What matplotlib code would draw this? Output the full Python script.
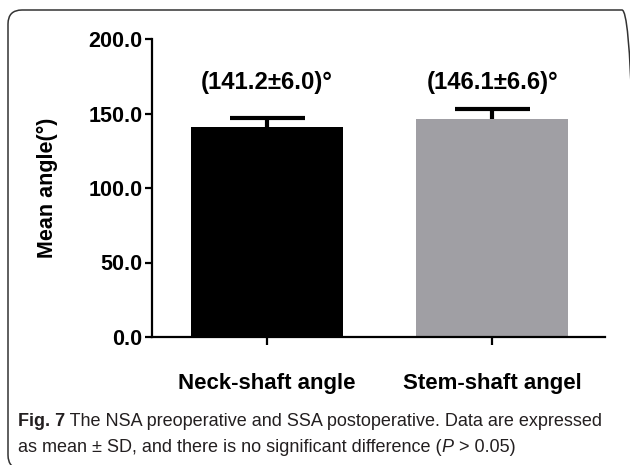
import matplotlib
matplotlib.use("Agg")
import matplotlib.pyplot as plt
from matplotlib.patches import FancyBboxPatch
from matplotlib.transforms import IdentityTransform
from matplotlib import font_manager

categories = ["Neck-shaft angle", "Stem-shaft angel"]
means = [141.2, 146.1]
sds = [6.0, 6.6]
bar_labels = ["(141.2\u00b16.0)\u00b0", "(146.1\u00b16.6)\u00b0"]
yticks = [0, 50, 100, 150, 200]
ylabel = "Mean angle(\u00b0)"
bar_colors = ["#000000", "#a09fa4"]

names = {f.name for f in font_manager.fontManager.ttflist}
bold_font = "Liberation Sans" if "Liberation Sans" in names else "DejaVu Sans"
cap_font = "Liberation Sans Narrow" if "Liberation Sans Narrow" in names else bold_font

fig = plt.figure(figsize=(6.3, 4.65), dpi=100)
ax = fig.add_axes([152/630, 1-337/465, (605-152)/630, (337-39)/465])

x = list(range(len(categories)))
ax.bar(x, means, width=0.674, color=bar_colors, zorder=2)
ax.errorbar(x, means, yerr=sds, fmt="none", ecolor="black",
            elinewidth=3, capsize=27, capthick=3, zorder=1)

for xi, lab in zip(x, bar_labels):
    ax.text(xi, 171, lab, ha="center", va="center", fontsize=17.2,
            fontweight="bold", family=bold_font)

ax.set_xlim(-0.51, 1.5)
ax.set_ylim(0, 200)
ax.set_yticks(yticks)
ax.set_yticklabels([f"{v:.1f}" for v in yticks], fontsize=15.5,
                   fontweight="bold", family=bold_font)
ax.set_xticks(x)
ax.set_xticklabels(categories, fontsize=16, fontweight="bold", family=bold_font)
ax.set_ylabel(ylabel, fontsize=15.5, fontweight="bold", family=bold_font, labelpad=22)

for s in ["top", "right"]:
    ax.spines[s].set_visible(False)
for s in ["left", "bottom"]:
    ax.spines[s].set_linewidth(1.6)
ax.tick_params(axis="y", length=5, width=1.6, pad=2)
ax.tick_params(axis="x", length=6, width=1.6, pad=20)

frame = FancyBboxPatch((8, -4), 628, 465 - 10 + 4,
                       boxstyle="round,pad=0,rounding_size=14",
                       transform=IdentityTransform(), fill=False,
                       edgecolor="#333333", linewidth=1.1)
fig.add_artist(frame)

# caption
fs = 13
cc = "#231f20"
t1 = fig.text(18/630, 1-426/465, "Fig. 7", fontsize=fs, fontweight="bold",
              family=cap_font, va="baseline", color=cc)
fig.canvas.draw()
t2 = ax.annotate(" The NSA preoperative and SSA postoperative. Data are expressed",
                 xy=(1, 0), xycoords=t1, va="bottom", ha="left", fontsize=fs,
                 family=cap_font, color=cc, annotation_clip=False)
l2a = fig.text(18/630, 1-452/465, "as mean \u00b1 SD, and there is no significant difference (",
               fontsize=fs, family=cap_font, va="baseline", color=cc)
l2b = ax.annotate("P", xy=(1, 0), xycoords=l2a, va="bottom", ha="left", fontsize=fs,
                  family=cap_font, style="italic", color=cc, annotation_clip=False)
l2c = ax.annotate(" > 0.05)", xy=(1, 0), xycoords=l2b, va="bottom", ha="left",
                  fontsize=fs, family=cap_font, color=cc, annotation_clip=False)

fig.savefig("out.png", dpi=100)
